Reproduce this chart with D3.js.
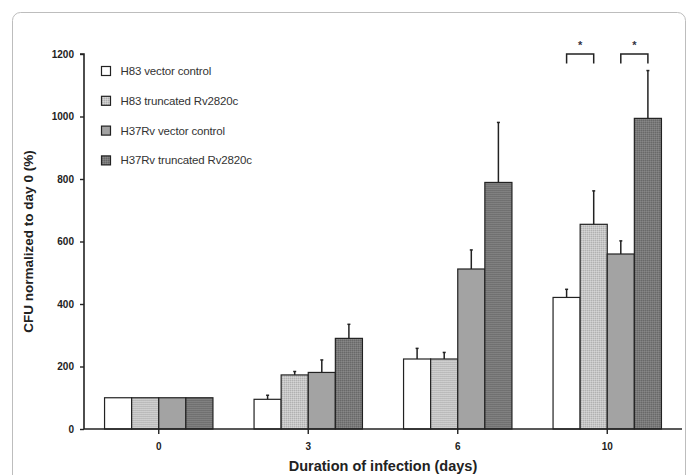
<!DOCTYPE html>
<html><head><meta charset="utf-8">
<script src="https://cdn.jsdelivr.net/npm/d3@7"></script>
<style>body{margin:0;background:#fff}svg{display:block}</style>
</head><body><svg id="c" width="689" height="475"></svg>
<script>
const categories = ["0", "3", "6", "10"];
const seriesNames = ["H83 vector control", "H83 truncated Rv2820c", "H37Rv vector control", "H37Rv truncated Rv2820c"];
const means = [
  [100, 95, 224, 421],
  [100, 173, 224, 655],
  [100, 181, 512, 560],
  [100, 290, 789, 994]
];
const errors = [
  [0, 13, 34, 26],
  [0, 11, 21, 107],
  [0, 40, 61, 42],
  [0, 45, 192, 153]
];
const yTicks = [0, 200, 400, 600, 800, 1000, 1200];
const significance = [{cat: "10", a: 0, b: 1, label: "*"}, {cat: "10", a: 2, b: 3, label: "*"}];

const svg = d3.select("#c");
const defs = svg.append("defs");
function dotPattern(id, bg, dot, dot2) {
  const p = defs.append("pattern").attr("id", id).attr("width", 2).attr("height", 2).attr("patternUnits", "userSpaceOnUse");
  p.append("rect").attr("width", 2).attr("height", 2).attr("fill", bg);
  p.append("rect").attr("x", 0).attr("y", 0).attr("width", 1).attr("height", 1).attr("fill", dot);
  p.append("rect").attr("x", 1).attr("y", 1).attr("width", 1).attr("height", 1).attr("fill", dot2);
}
dotPattern("p2", "#c6c6c6", "#b0b0b0", "#d6d6d6");
dotPattern("p4", "#797979", "#686868", "#888888");
const fills = ["#ffffff", "url(#p2)", "#a3a3a3", "url(#p4)"];

// frame
svg.append("rect").attr("x", 12.5).attr("y", 12.5).attr("width", 673).attr("height", 480)
  .attr("rx", 8).attr("fill", "none").attr("stroke", "#bdbdbd").attr("stroke-width", 1);

const x0 = 84, x1 = 682, yTop = 54, yBot = 429;
const x = d3.scaleBand().domain(categories).range([x0, x1]).paddingInner(0.275).paddingOuter(0.1375);
const xs = d3.scaleBand().domain(d3.range(4)).range([0, x.bandwidth()]);
const y = d3.scaleLinear().domain([0, 1200]).range([yBot, yTop]);

// bars
categories.forEach((c, ci) => {
  const g = svg.append("g").attr("transform", `translate(${x(c)},0)`);
  d3.range(4).forEach(si => {
    const v = means[si][ci], e = errors[si][ci];
    const cx = xs(si) + xs.bandwidth() / 2;
    if (e > 0) {
      g.append("line").attr("x1", cx).attr("x2", cx).attr("y1", y(v)).attr("y2", y(v + e))
        .attr("stroke", "#222").attr("stroke-width", 1.5);
      g.append("line").attr("x1", cx - 1.5).attr("x2", cx + 1.5).attr("y1", y(v + e)).attr("y2", y(v + e))
        .attr("stroke", "#222").attr("stroke-width", 1.5);
    }
    g.append("rect").attr("x", xs(si)).attr("y", y(v)).attr("width", xs.bandwidth()).attr("height", y(0) - y(v))
      .attr("fill", fills[si]).attr("stroke", "#222").attr("stroke-width", 1.2);
  });
});

// axes
const yAxis = svg.append("g").attr("transform", `translate(${x0},0)`)
  .call(d3.axisLeft(y).tickValues(yTicks).tickFormat(d3.format("d")).tickSize(4).tickPadding(6));
const xAxis = svg.append("g").attr("transform", `translate(0,${yBot})`)
  .call(d3.axisBottom(x).tickSize(5).tickPadding(9));
[yAxis, xAxis].forEach(a => {
  a.select(".domain").attr("stroke", "#222").attr("stroke-width", 1.6);
  a.selectAll(".tick line").attr("stroke", "#222").attr("stroke-width", 1.4);
  a.selectAll("text").attr("font-family", "Liberation Sans, Arial, sans-serif").attr("font-weight", "bold")
    .attr("font-size", 10).attr("fill", "#222");
});
yAxis.select(".domain").attr("d", `M-4,${yTop}H0V${yBot}`);
xAxis.select(".domain").attr("d", `M${x0},0H${x1}`);

// axis titles
svg.append("text").attr("transform", `translate(33,${(yTop + yBot) / 2}) rotate(-90)`)
  .attr("text-anchor", "middle").attr("font-family", "Liberation Sans, Arial, sans-serif")
  .attr("font-weight", "bold").attr("font-size", 13.5).attr("fill", "#222").text("CFU normalized to day 0 (%)");
svg.append("text").attr("x", (x0 + x1) / 2).attr("y", 471)
  .attr("text-anchor", "middle").attr("font-family", "Liberation Sans, Arial, sans-serif")
  .attr("font-weight", "bold").attr("font-size", 14.5).attr("fill", "#222").text("Duration of infection (days)");

// legend
seriesNames.forEach((n, i) => {
  const ly = 71 + i * 29.8;
  svg.append("rect").attr("x", 101.5).attr("y", ly - 4.5).attr("width", 9).attr("height", 9)
    .attr("fill", fills[i]).attr("stroke", "#222").attr("stroke-width", 1.2);
  svg.append("text").attr("x", 120.5).attr("y", ly + 4).attr("font-family", "Liberation Sans, Arial, sans-serif")
    .attr("font-size", 11.5).attr("letter-spacing", -0.15).attr("fill", "#333").text(n);
});

// significance brackets
significance.forEach(s => {
  const xa = x(s.cat) + xs(s.a) + xs.bandwidth() / 2;
  const xb = x(s.cat) + xs(s.b) + xs.bandwidth() / 2;
  svg.append("path").attr("d", `M${xa},${y(1170)}V${y(1200)}H${xb}V${y(1170)}`)
    .attr("fill", "none").attr("stroke", "#222").attr("stroke-width", 1.5);
  svg.append("text").attr("x", (xa + xb) / 2).attr("y", 49).attr("text-anchor", "middle")
    .attr("font-family", "Liberation Sans, Arial, sans-serif").attr("font-weight", "bold")
    .attr("font-size", 11).attr("fill", "#334").text(s.label);
});
</script></body></html>
